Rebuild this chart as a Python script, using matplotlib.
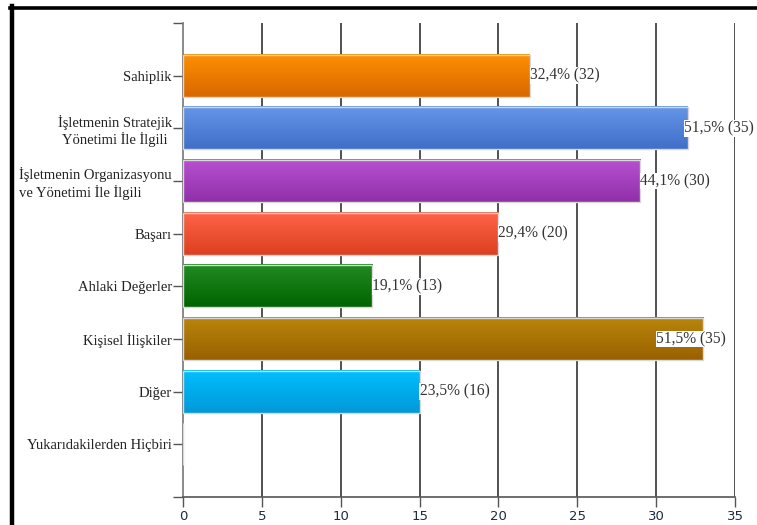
import numpy as np
import matplotlib
matplotlib.use("Agg")
import matplotlib.pyplot as plt
from matplotlib.colors import LinearSegmentedColormap
from matplotlib.lines import Line2D

categories = ["Sahiplik",
              "İşletmenin Stratejik\nYönetimi İle İlgili",
              "İşletmenin Organizasyonu\nve Yönetimi İle İlgili",
              "Başarı",
              "Ahlaki Değerler",
              "Kişisel İlişkiler",
              "Diğer",
              "Yukarıdakilerden Hiçbiri"]
values = [22, 32, 29, 20, 12, 33, 15, 0]
value_labels = ["32,4% (32)", "51,5% (35)", "44,1% (30)", "29,4% (20)",
                "19,1% (13)", "51,5% (35)", "23,5% (16)", ""]
top_colors = ["#ff8f00", "#6696e8", "#b850d2", "#ff6448", "#228b22", "#b8860b", "#00bfff", "#ffffff"]
bottom_colors = ["#d86800", "#3f6fc8", "#9030a8", "#dc4020", "#006400", "#9a6000", "#0098d8", "#ffffff"]
xticks = [0, 5, 10, 15, 20, 25, 30, 35]

serif = "Liberation Serif"

fig = plt.figure(figsize=(7.57, 5.25), dpi=100)
ax = fig.add_axes([183 / 757, 1 - 497 / 525, 552 / 757, 474 / 525])

bar_h = 0.8
y = np.arange(len(categories))

# vertical gridlines behind bars
for xt in xticks[1:]:
    ax.axvline(xt, color="#222222", lw=1.1, zorder=1)

grad = np.linspace(0, 1, 64).reshape(-1, 1)
for i, v in enumerate(values):
    if v <= 0:
        continue
    cmap = LinearSegmentedColormap.from_list("g", [top_colors[i], bottom_colors[i]])
    ax.imshow(grad, cmap=cmap, aspect="auto", interpolation="bilinear",
              extent=[0, v, y[i] + bar_h / 2, y[i] - bar_h / 2], zorder=2)
ax.barh(y, values, height=bar_h, facecolor="none", edgecolor="#d8d8d8", lw=1, zorder=3)

ax.set_xlim(0, 35)
ax.set_ylim(len(categories), -1)

# value labels; pull back inside when they would run off the picture
fig.canvas.draw()
renderer = fig.canvas.get_renderer()
for i, v in enumerate(values):
    if not value_labels[i]:
        continue
    t = ax.text(v, y[i], value_labels[i], va="center", ha="left", fontsize=11.2,
                family=serif, color="#333333", zorder=4,
                bbox=dict(facecolor="white", edgecolor="none", pad=0.3))
    bb = t.get_window_extent(renderer)
    over = bb.x1 - (fig.bbox.width - 3)
    if 0 < over < 8:
        t.set_x(v - over / (ax.bbox.width / 35))
    elif over >= 8:
        t.set_x(30)

ax.set_xticks(xticks)
ax.set_xticklabels([str(t) for t in xticks], fontsize=9.5, color="#1f2a44", family="DejaVu Sans")

ax.set_yticks(list(range(-1, len(categories) + 1)))
ax.set_yticklabels([""] + categories + [""], fontsize=10.5, family=serif, color="#222222")
for lbl, cat in zip(ax.get_yticklabels()[1:-1], categories):
    if cat.startswith("İşletmenin Organizasyonu"):
        lbl.set_multialignment("left")
    else:
        lbl.set_multialignment("center")

ax.tick_params(axis="y", length=7, width=1, color="#555555", pad=1)
ax.tick_params(axis="x", length=7, width=1, color="#555555", pad=2)

for s in ["top", "right"]:
    ax.spines[s].set_visible(False)
ax.spines["left"].set_color("#777777")
ax.spines["bottom"].set_color("#555555")
ax.spines["left"].set_linewidth(1.2)
ax.spines["bottom"].set_linewidth(1.2)

# black frame on left and top of the picture
fig.add_artist(Line2D([12 / 757, 12 / 757], [0, 1 - 6 / 525], color="black", lw=3.2,
                      transform=fig.transFigure))
fig.add_artist(Line2D([10 / 757, 1], [1 - 7.5 / 525, 1 - 7.5 / 525], color="black", lw=2.6,
                      transform=fig.transFigure))

fig.savefig("out.png", dpi=100)
